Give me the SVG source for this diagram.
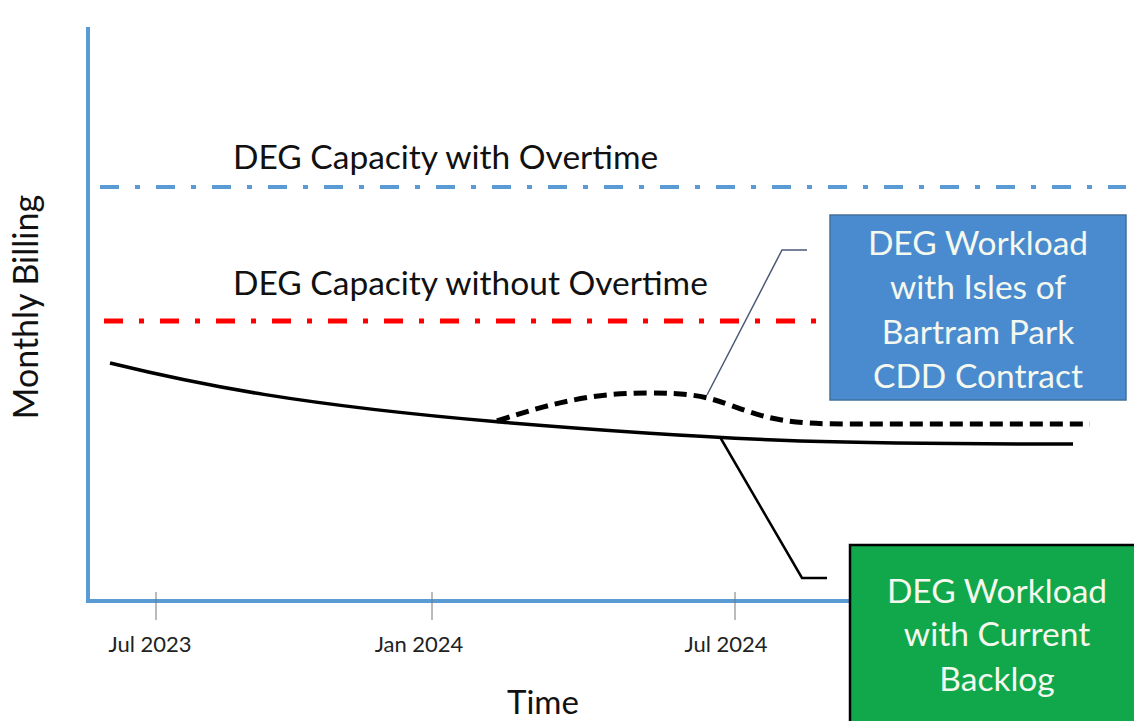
<svg xmlns="http://www.w3.org/2000/svg" width="1134" height="721" viewBox="0 0 1134 721">
<style>
.t{font-family:Lato,"Liberation Sans",sans-serif;fill:#111}
.b{font-family:Lato,"Liberation Sans",sans-serif;fill:#f4f8ee;font-size:33.5px;text-anchor:middle}
.tick{font-family:Lato,"Liberation Sans",sans-serif;font-size:22px;fill:#222;text-anchor:middle}
</style>
<rect width="1134" height="721" fill="#fff"/>
<g id="axes" stroke="#5b9bd5" stroke-width="4" fill="none">
<line x1="88" y1="27" x2="88" y2="603"/>
<line x1="86" y1="601" x2="852" y2="601"/>
<g stroke="#777" stroke-width="1">
<line x1="156" y1="592" x2="156" y2="620"/>
<line x1="432" y1="592" x2="432" y2="620"/>
<line x1="735" y1="592" x2="735" y2="620"/>
</g>
</g>
<g id="labels">
<text class="tick" x="150" y="652">Jul 2023</text>
<text class="tick" x="419" y="652">Jan 2024</text>
<text class="tick" x="726" y="652">Jul 2024</text>
<text class="t" x="543" y="714" font-size="33" text-anchor="middle">Time</text>
<text class="t" x="0" y="0" font-size="34" text-anchor="middle" transform="translate(38,307) rotate(-90)">Monthly Billing</text>
<text class="t" x="233" y="169" font-size="33.5">DEG Capacity with Overtime</text>
<text class="t" x="233" y="295" font-size="33.5">DEG Capacity without Overtime</text>
</g>
<g id="connectors" fill="none">
<line x1="100" y1="187" x2="1126" y2="187" stroke="#5b9bd5" stroke-width="4" stroke-dasharray="19 16 5 16"/>
<line x1="100" y1="321" x2="826" y2="321" stroke="#ff0000" stroke-width="5" stroke-dasharray="19 16 5 16" stroke-dashoffset="-4"/>
<path d="M110,363 C200,385 300,405 500,422 C620,432 720,438 800,441 C900,444 1000,444 1073,444" stroke="#000" stroke-width="3.5"/>
<path d="M497,421 C560,400 600,393 647,393 C690,393 705,396 730,405 C770,420 790,424 847,424 L1090,424" stroke="#000" stroke-width="5" stroke-dasharray="13 7"/>
<polyline points="707,395 782,250 807,250" stroke="#4a5a75" stroke-width="1.5"/>
<polyline points="720,437 802,578 827,578" stroke="#000" stroke-width="2.5"/>
</g>
<g id="node-isles">
<rect x="830" y="215" width="296" height="185" fill="#4a8bcf" stroke="#41719c" stroke-width="1.5"/>
<text class="b" x="978" y="255">DEG Workload</text>
<text class="b" x="978" y="299">with Isles of</text>
<text class="b" x="978" y="344">Bartram Park</text>
<text class="b" x="978" y="388">CDD Contract</text>
</g>
<g id="node-backlog">
<rect x="850" y="545" width="300" height="190" fill="#10a84a" stroke="#000" stroke-width="2.5"/>
<text class="b" x="997" y="603">DEG Workload</text>
<text class="b" x="997" y="646">with Current</text>
<text class="b" x="997" y="691">Backlog</text>
</g>
</svg>
